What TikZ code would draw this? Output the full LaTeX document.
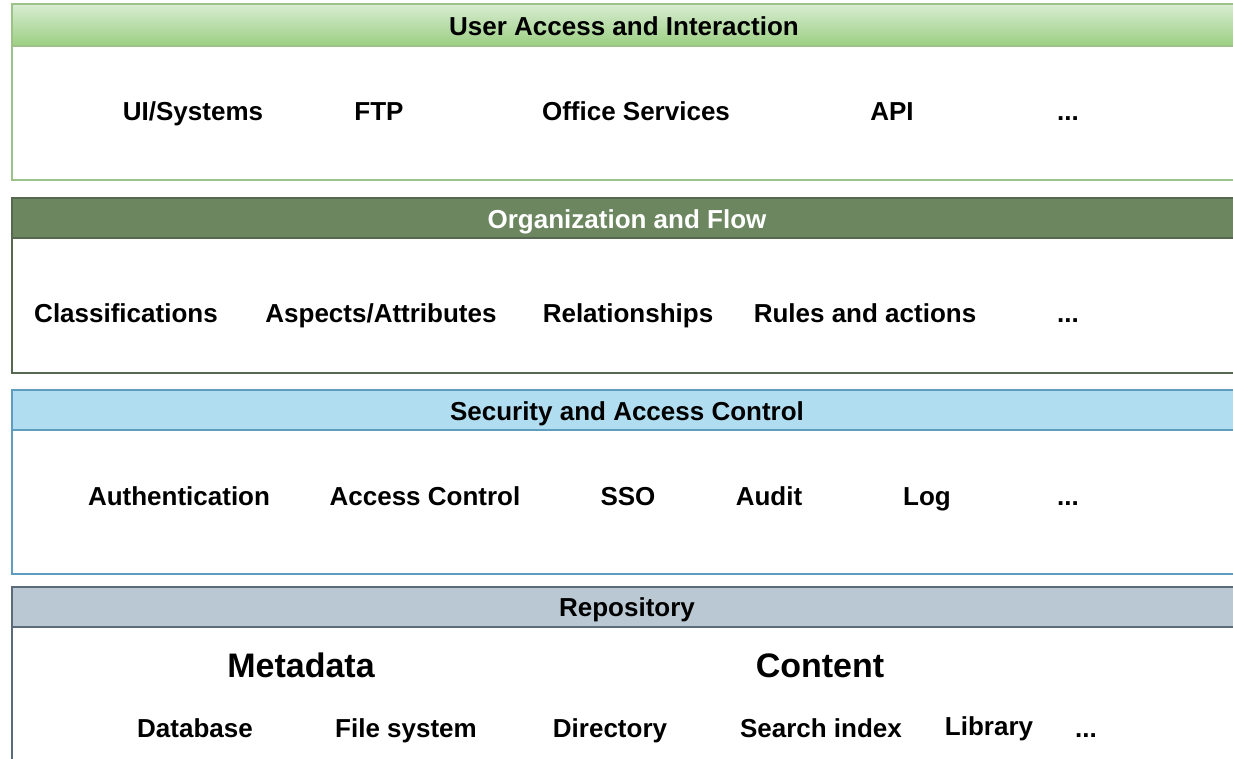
\documentclass[tikz,border=0pt]{standalone}
\usepackage{fontspec}
\setmainfont{Liberation Sans}
\usepackage{tikz}
\usetikzlibrary{positioning}

\definecolor{lvtou}{HTML}{9BCF82}
\definecolor{lvding}{HTML}{D8ECD2}
\definecolor{lvbian}{HTML}{9CC28A}
\definecolor{moutou}{HTML}{6C8660}
\definecolor{moubian}{HTML}{56684F}
\definecolor{lantou}{HTML}{B1DDF0}
\definecolor{lanbian}{HTML}{5E9DBE}
\definecolor{huitou}{HTML}{BAC8D3}
\definecolor{huibian}{HTML}{5C6B7A}

\begin{document}
\begin{tikzpicture}[x=1pt,y=-1pt]
\tikzset{ziti/.style={font=\fontsize{26}{30}\selectfont\bfseries, inner sep=0pt, anchor=base}}
\tikzset{xiang/.style={ziti, text=black}}
\tikzset{biaoti/.style={ziti}}
\tikzset{dazi/.style={xiang, font=\fontsize{34}{40}\selectfont\bfseries}}
\tikzset{kuang/.style={line width=1.3pt, fill=white}}

\useasboundingbox (0,0) rectangle (1233,758);

% layer boxes
\draw[kuang, draw=lvbian] (12,4) rectangle (1245,180);
\shade[top color=lvding, bottom color=lvtou] (12,4) rectangle (1245,46);
\draw[lvbian, line width=1.3pt] (12,4) rectangle (1245,180) (12,46) -- (1245,46);

\draw[kuang, draw=moubian] (12,198) rectangle (1245,373);
\fill[moutou] (12,198) rectangle (1245,238);
\draw[moubian, line width=1.3pt] (12,198) rectangle (1245,373) (12,238) -- (1245,238);

\draw[kuang, draw=lanbian] (12,390) rectangle (1245,574);
\fill[lantou] (12,390) rectangle (1245,430);
\draw[lanbian, line width=1.3pt] (12,390) rectangle (1245,574) (12,430) -- (1245,430);

\draw[kuang, draw=huibian] (12,587) rectangle (1245,775);
\fill[huitou] (12,587) rectangle (1245,627);
\draw[huibian, line width=1.3pt] (12,587) rectangle (1245,775) (12,627) -- (1245,627);

% headers
\node[biaoti](10)at(624,35){User Access and Interaction};
\node[biaoti, text=white](20)at(627,228){Organization and Flow};
\node[biaoti](30)at(627,420){Security and Access Control};
\node[biaoti](40)at(627,616){Repository};

% user access
\node[xiang](11)at(193,120){UI/Systems};
\node[xiang](12)at(379,120){FTP};
\node[xiang](13)at(636,120){Office Services};
\node[xiang](14)at(892,120){API};
\node[xiang](15)at(1068,120){...};

% organization
\node[xiang](21)at(126,322){Classifications};
\node[xiang](22)at(381,322){Aspects/Attributes};
\node[xiang](23)at(628,322){Relationships};
\node[xiang](24)at(865,322){Rules and actions};
\node[xiang](25)at(1068,322){...};

% security
\node[xiang](31)at(179,505){Authentication};
\node[xiang](32)at(425,505){Access Control};
\node[xiang](33)at(628,505){SSO};
\node[xiang](34)at(769,505){Audit};
\node[xiang](35)at(927,505){Log};
\node[xiang](36)at(1068,505){...};

% repository
\node[dazi](41)at(301,677){Metadata};
\node[dazi](42)at(820,677){Content};
\node[xiang](51)at(195,737){Database};
\node[xiang](52)at(406,737){File system};
\node[xiang](53)at(610,737){Directory};
\node[xiang](54)at(821,737){Search index};
\node[xiang](55)at(989,735){Library};
\node[xiang](56)at(1086,737){...};
\end{tikzpicture}
\end{document}
